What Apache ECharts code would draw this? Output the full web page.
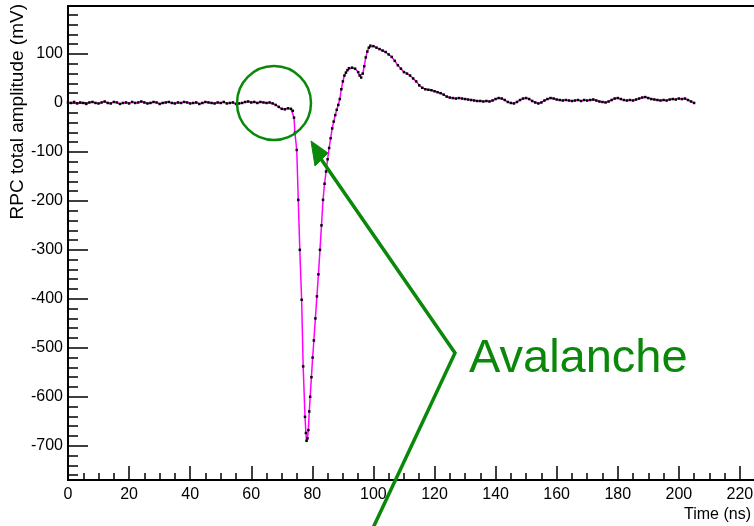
<!DOCTYPE html>
<html>
<head>
<meta charset="utf-8">
<script src="https://cdn.jsdelivr.net/npm/echarts@6/dist/echarts.min.js"></script>
<style>
html,body{margin:0;padding:0;background:#fff;}
#c{width:754px;height:526px;}
</style>
</head>
<body>
<div id="c"></div>
<script>
// ---- data ----
const time = [
  0,1,2,3,4,5,6,7,8,9,10,11,12,13,14,15,16,17,18,19,20,21,22,23,24,25,26,27,28,29,
  30,31,32,33,34,35,36,37,38,39,40,41,42,43,44,45,46,47,48,49,50,51,52,53,54,55,56,57,58,59,
  60,61,62,63,64,65,66,67,68,69,70,71,72,73,73.6,74,74.3,74.9,75.4,75.9,76.5,77,77.6,77.9,78.1,
  78.4,78.7,79,79.3,79.7,80.1,80.5,81,81.5,82,82.5,83,83.5,84,84.5,85,85.5,86,86.5,87,87.5,88,88.5,
  89,89.5,90,90.5,91,91.5,92,93,94,95,95.5,96,96.5,97,97.5,98,98.5,99,100,101,102,103,104,105,
  106,107,108,109,110,111,112,113,114,115,116,117,118,119,120,121,122,123,124,125,126,127,128,129,
  130,131,132,133,134,135,136,137,138,139,140,141,142,143,144,145,146,147,148,149,150,151,152,153,
  154,155,156,157,158,159,160,161,162,163,164,165,166,167,168,169,170,171,172,173,174,175,176,177,
  178,179,180,181,182,183,184,185,186,187,188,189,190,191,192,193,194,195,196,197,198,199,200,201,
  202,203,204,205
];
const amplitude = [
  1,0,2,-1,1,0,-2,1,2,0,-1,1,3,0,-1,2,1,-2,0,1,-1,2,0,1,3,1,-1,0,2,1,
  -2,0,1,2,0,-1,1,0,2,1,-1,0,1,-2,0,2,1,0,-1,1,0,2,-1,0,1,-2,-1,0,2,3,
  1,2,0,2,1,0,1,-1,-4,-8,-12,-13,-11,-12,-16,-30,-61,-96,-198,-300,-402,-538,-641,-674,-690,
  -685,-668,-630,-600,-560,-520,-485,-440,-395,-350,-300,-250,-198,-165,-140,-115,-92,-72,-52,-38,-25,-14,-4,
  8,28,44,56,62,67,71,72,70,63,56,52,60,75,93,105,113,117,116,113,110,107,104,99,
  94,86,77,70,63,60,56,50,44,36,31,28,27,26,24,22,20,17,13,11,10,9,10,9,
  8,7,6,5,4,4,3,4,3,5,8,10,9,6,2,0,-1,2,6,9,10,8,4,1,
  -1,1,5,8,10,9,7,6,5,6,5,4,5,6,4,6,5,6,7,5,3,2,1,3,
  6,9,10,8,6,5,6,5,7,9,11,12,10,8,7,6,5,6,5,7,8,7,9,8,
  9,6,3,0
];
const yMajorTicks = [-700,-600,-500,-400,-300,-200,-100,0,100];
const xTitle = 'Time (ns)';
const yTitle = 'RPC total amplitude (mV)';
const noteText = 'Avalanche';

const yMin = -770, yMax = 198;
const yMinorTicks = [];
for (let v = -760; v <= 180; v += 20) if (v % 100 !== 0) yMinorTicks.push(v);

const points = time.map((t, i) => [t, amplitude[i]]);
const GREEN = '#0a880a';
const FONT = '"Liberation Sans", Arial, sans-serif';

const chart = echarts.init(document.getElementById('c'), null, {renderer: 'canvas'});
chart.setOption({
  animation: false,
  backgroundColor: '#fff',
  grid: {left: 68, top: 6, bottom: 46, right: -47, show: true, borderColor: '#000', borderWidth: 2,
         containLabel: false, outerBoundsMode: 'none'},
  xAxis: {
    type: 'value', min: 0, max: 240, interval: 20,
    axisLine: {onZero: false, lineStyle: {color: '#000', width: 2}},
    axisTick: {inside: true, length: 14, lineStyle: {color: '#000', width: 1.5}},
    minorTick: {show: true, splitNumber: 4, length: 7, lineStyle: {color: '#000', width: 1.5}},
    axisLabel: {color: '#000', fontSize: 16, fontFamily: FONT, margin: 7},
    splitLine: {show: false}
  },
  yAxis: [{
    type: 'value', min: yMin, max: yMax,
    axisLine: {show: true, onZero: false, lineStyle: {color: '#000', width: 2}},
    axisTick: {show: true, inside: true, length: 20, customValues: yMajorTicks, lineStyle: {color: '#000', width: 1.5}},
    axisLabel: {show: true, customValues: yMajorTicks, color: '#000', fontSize: 16, fontFamily: FONT, margin: 5},
    splitLine: {show: false}
  }, {
    type: 'value', min: yMin, max: yMax, position: 'left', offset: 0,
    axisLine: {show: false, onZero: false},
    axisTick: {show: true, inside: true, length: 10, customValues: yMinorTicks, lineStyle: {color: '#000', width: 1.5}},
    axisLabel: {show: false},
    splitLine: {show: false}
  }],
  series: [{
    type: 'line', data: points, xAxisIndex: 0, yAxisIndex: 0,
    showSymbol: true, showAllSymbol: true, symbol: 'rect', symbolSize: 2.5,
    itemStyle: {color: '#000'},
    lineStyle: {color: '#ff00ff', width: 1.5},
    clip: true, z: 3
  }],
  graphic: [
    {type: 'text', x: 18, y: 4, rotation: Math.PI / 2,
     style: {text: yTitle, fill: '#000', font: '19px ' + FONT, align: 'right', verticalAlign: 'middle'}},
    {type: 'text', x: 751, y: 515,
     style: {text: xTitle, fill: '#000', font: '16px ' + FONT, align: 'right', verticalAlign: 'middle'}},
    {type: 'circle', shape: {cx: 274, cy: 103, r: 37}, style: {fill: 'none', stroke: GREEN, lineWidth: 2.5}, z: 10},
    {type: 'polyline', shape: {points: [[321, 159], [455, 353], [365, 545]]}, style: {fill: 'none', stroke: GREEN, lineWidth: 3.5, lineJoin: 'miter'}, z: 10},
    {type: 'polygon', shape: {points: [[311, 141], [315, 166], [328, 153]]}, style: {fill: GREEN, stroke: GREEN, lineWidth: 1}, z: 10},
    {type: 'text', x: 469, y: 336,
     style: {text: noteText, fill: GREEN, font: '47px ' + FONT, align: 'left', verticalAlign: 'top'}, z: 10}
  ]
});
</script>
</body>
</html>
